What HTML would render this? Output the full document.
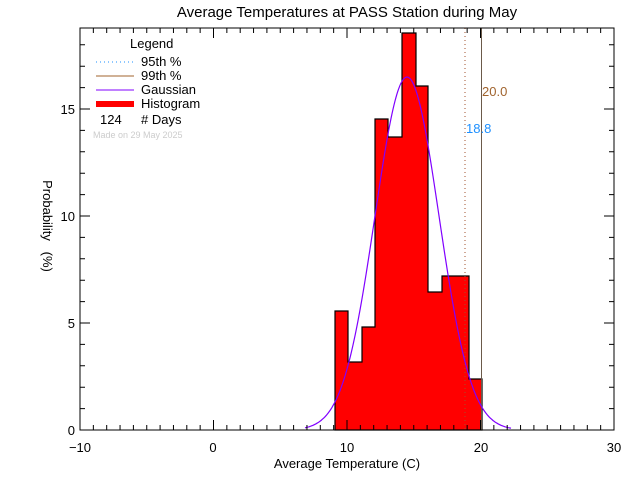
<!DOCTYPE html>
<html><head><style>body{margin:0;background:#fff}svg{display:block;font-family:"Liberation Sans",sans-serif}</style></head>
<body>
<svg id="s" width="640" height="480" xmlns="http://www.w3.org/2000/svg">
<rect width="640" height="480" fill="#fff"/>
<text x="347" y="17" font-size="15" text-anchor="middle">Average Temperatures at PASS Station during May</text>
<g fill="#f00" stroke="#000" stroke-width="1.2">
<path d="M335,430 V311 H348 V362 H362 V327 H375 V119 H388 V137 H402 V33 H416 V86 H428 V292 H442 V276 H469 V379 H482 V430 Z"/>
</g>
<line x1="465" y1="28" x2="465" y2="430" stroke="#a0522d" stroke-dasharray="1,3"/>
<line x1="481.5" y1="28" x2="481.5" y2="430" stroke="#6b5a4a" stroke-width="1"/>
<path id="g" fill="none" stroke="#8000ff" stroke-width="1.2"/>
<text x="482" y="96" font-size="13" fill="#a0632d">20.0</text>
<text x="466" y="133" font-size="13" fill="#1e90ff">18.8</text>
<g id="ax" stroke="#000" fill="none"></g>
<rect x="80" y="28" width="534" height="402" fill="none" stroke="#000"/>
<g font-size="13" text-anchor="middle">
<text x="80" y="452">−10</text><text x="213" y="452">0</text><text x="347" y="452">10</text><text x="481" y="452">20</text><text x="614" y="452">30</text>
<text x="347" y="468">Average Temperature (C)</text>
</g>
<g font-size="13" text-anchor="end">
<text x="75" y="435">0</text><text x="75" y="328">5</text><text x="75" y="221">10</text><text x="75" y="114">15</text>
</g>
<text transform="translate(43,226) rotate(90)" font-size="13" text-anchor="middle">Probability&#160;&#160;&#160;(%)</text>
<g font-size="13">
<text x="130" y="48">Legend</text>
<line x1="96" y1="62" x2="134" y2="62" stroke="#1e90ff" stroke-dasharray="1,3"/>
<text x="141" y="66">95th %</text>
<line x1="96" y1="76" x2="134" y2="76" stroke="#a0632d"/>
<text x="141" y="80">99th %</text>
<line x1="96" y1="90" x2="134" y2="90" stroke="#8000ff"/>
<text x="141" y="94">Gaussian</text>
<rect x="96" y="101" width="38" height="6" fill="#f00"/>
<text x="141" y="108">Histogram</text>
<text x="100" y="124">124</text><text x="141" y="124"># Days</text>
<text x="93" y="138" font-size="9" fill="#ccc">Made on 29 May 2025</text>
</g>
<script>
var d="";for(var x=305;x<=511;x+=1){var y=430-353*Math.exp(-Math.pow(x-407,2)/(2*32*32));d+=(x==305?"M":"L")+x+","+y.toFixed(1);}
document.getElementById("g").setAttribute("d",d);
var a="";for(var i=-10;i<=30;i++){var x=80+(i+10)*13.35;var L=(i%10==0)?10:5;a+="M"+x+",430v-"+L+"M"+x+",28v"+L;}
for(var j=0;j<=18;j++){var y=430-j*21.4;var L=(j%5==0)?10:5;a+="M80,"+y+"h"+L+"M614,"+y+"h-"+L;}
var p=document.createElementNS("http://www.w3.org/2000/svg","path");p.setAttribute("d",a);document.getElementById("ax").appendChild(p);
</script>
</svg>
</body></html>
